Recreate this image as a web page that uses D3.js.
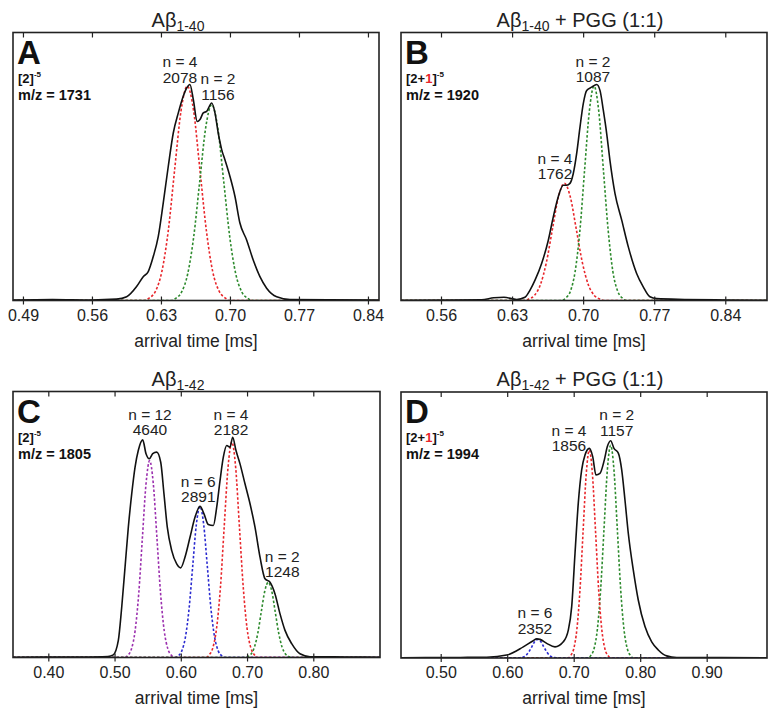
<!DOCTYPE html>
<html><head><meta charset="utf-8">
<script src="https://cdn.jsdelivr.net/npm/d3@7"></script>
<style>body{margin:0;background:#fff;} svg{display:block;font-family:Arial,"Liberation Sans",sans-serif;}</style>
</head><body>
<svg id="c" width="779" height="719"></svg>
<script>
// ---------- DATA ----------
const ticksA = [0.49, 0.56, 0.63, 0.70, 0.77, 0.84];
const ticksB = [0.56, 0.63, 0.70, 0.77, 0.84];
const ticksC = [0.40, 0.50, 0.60, 0.70, 0.80];
const ticksD = [0.50, 0.60, 0.70, 0.80, 0.90];

// Panel A: Aβ1-40 (arrival time ms, normalized intensity)
const aBlack = [[0.4799,0.002],[0.52,0.004],[0.56,0.002],[0.585,0.005],[0.5952,0.014],[0.6053,0.052],[0.6120,0.089],[0.6171,0.108],[0.6222,0.164],[0.6273,0.239],[0.6323,0.363],[0.6374,0.500],[0.6425,0.625],[0.6476,0.700],[0.6526,0.762],[0.6561,0.793],[0.6594,0.806],[0.6628,0.750],[0.6668,0.668],[0.6696,0.675],[0.6729,0.700],[0.6764,0.706],[0.6815,0.737],[0.6848,0.700],[0.6881,0.625],[0.6916,0.563],[0.6949,0.525],[0.7000,0.463],[0.7051,0.388],[0.7101,0.289],[0.7169,0.226],[0.7236,0.151],[0.7304,0.089],[0.7372,0.046],[0.7474,0.014],[0.7609,0.004],[0.80,0.003],[0.8512,0.002]];
const aRed = [[0.6180,0.009],[0.6245,0.035],[0.6309,0.108],[0.6374,0.260],[0.6438,0.485],[0.6503,0.706],[0.6567,0.800],[0.6632,0.706],[0.6696,0.485],[0.6761,0.260],[0.6825,0.108],[0.6890,0.035],[0.6954,0.009]];
const aGreen = [[0.6449,0.008],[0.6510,0.032],[0.6571,0.099],[0.6632,0.237],[0.6693,0.443],[0.6754,0.645],[0.6815,0.731],[0.6876,0.645],[0.6937,0.443],[0.6998,0.237],[0.7059,0.099],[0.7120,0.032],[0.7181,0.008]];

// Panel B: Aβ1-40 + PGG (1:1)
const bBlack = [[0.5206,0.001],[0.57,0.002],[0.600,0.003],[0.612,0.010],[0.622,0.012],[0.6346,0.004],[0.6427,0.012],[0.6477,0.039],[0.6526,0.076],[0.6592,0.139],[0.6657,0.225],[0.6706,0.312],[0.6755,0.387],[0.6804,0.430],[0.6838,0.430],[0.6870,0.437],[0.6903,0.474],[0.6936,0.548],[0.6969,0.647],[0.7001,0.734],[0.7035,0.784],[0.7084,0.796],[0.7133,0.806],[0.7166,0.784],[0.7199,0.709],[0.7232,0.623],[0.7264,0.523],[0.7314,0.399],[0.7380,0.300],[0.7445,0.200],[0.7527,0.101],[0.7592,0.051],[0.7658,0.014],[0.7724,0.007],[0.80,0.004],[0.84,0.002],[0.8811,0.001]];
const bRed = [[0.6461,0.005],[0.6520,0.019],[0.6579,0.059],[0.6638,0.142],[0.6697,0.265],[0.6756,0.386],[0.6815,0.437],[0.6874,0.386],[0.6933,0.265],[0.6992,0.142],[0.7051,0.059],[0.7110,0.019],[0.7169,0.005]];
const bGreen = [[0.6828,0.009],[0.6875,0.035],[0.6921,0.108],[0.6968,0.260],[0.7014,0.485],[0.7061,0.706],[0.7107,0.800],[0.7154,0.706],[0.7200,0.485],[0.7247,0.260],[0.7293,0.108],[0.7340,0.035],[0.7386,0.009]];

// Panel C: Aβ1-42
const cBlack = [[0.3467,0.001],[0.45,0.002],[0.49,0.004],[0.4981,0.010],[0.5057,0.064],[0.5108,0.189],[0.5158,0.339],[0.5208,0.490],[0.5259,0.615],[0.5309,0.715],[0.5358,0.778],[0.5425,0.818],[0.5475,0.766],[0.5525,0.747],[0.5576,0.766],[0.5636,0.772],[0.5697,0.734],[0.5746,0.615],[0.5796,0.490],[0.5863,0.402],[0.5938,0.352],[0.5998,0.337],[0.6063,0.377],[0.6139,0.452],[0.6214,0.527],[0.6290,0.568],[0.6350,0.540],[0.6415,0.500],[0.6491,0.496],[0.6542,0.565],[0.6592,0.665],[0.6642,0.753],[0.6693,0.797],[0.6743,0.791],[0.6783,0.828],[0.6833,0.778],[0.6894,0.728],[0.6969,0.653],[0.7045,0.578],[0.7120,0.490],[0.7196,0.377],[0.7271,0.296],[0.7347,0.283],[0.7422,0.239],[0.7498,0.164],[0.7573,0.102],[0.7674,0.052],[0.7799,0.014],[0.7950,0.003],[0.85,0.002],[0.9007,0.001]];
const cPurple = [[0.520,0.008],[0.5255,0.032],[0.531,0.100],[0.5365,0.240],[0.542,0.449],[0.5475,0.653],[0.553,0.740],[0.5585,0.653],[0.564,0.449],[0.5695,0.240],[0.575,0.100],[0.5805,0.032],[0.586,0.008]];
const cBlue = [[0.596,0.006],[0.6015,0.025],[0.607,0.077],[0.6125,0.184],[0.618,0.344],[0.6235,0.501],[0.629,0.568],[0.6345,0.501],[0.640,0.344],[0.6455,0.184],[0.651,0.077],[0.6565,0.025],[0.662,0.006]];
const cRed = [[0.6425,0.009],[0.6483,0.036],[0.654,0.110],[0.6598,0.263],[0.6655,0.491],[0.6713,0.715],[0.677,0.810],[0.6828,0.715],[0.6885,0.491],[0.6943,0.263],[0.700,0.110],[0.7058,0.036],[0.7115,0.009]];
const cGreen = [[0.7005,0.003],[0.7058,0.012],[0.711,0.038],[0.7163,0.092],[0.7215,0.172],[0.7268,0.250],[0.732,0.283],[0.7373,0.250],[0.7425,0.172],[0.7478,0.092],[0.753,0.038],[0.7583,0.012],[0.7635,0.003]];

// Panel D: Aβ1-42 + PGG (1:1)
const dBlack = [[0.4403,0.001],[0.53,0.002],[0.5692,0.003],[0.5992,0.011],[0.6242,0.042],[0.6392,0.065],[0.6444,0.072],[0.6493,0.070],[0.6594,0.055],[0.6719,0.042],[0.6844,0.061],[0.6919,0.105],[0.6970,0.193],[0.7020,0.394],[0.7069,0.582],[0.7120,0.707],[0.7170,0.763],[0.7235,0.788],[0.7286,0.757],[0.7335,0.688],[0.7395,0.694],[0.7460,0.744],[0.7505,0.794],[0.7556,0.817],[0.7606,0.788],[0.7671,0.770],[0.7722,0.707],[0.7771,0.594],[0.7821,0.469],[0.7896,0.331],[0.7971,0.218],[0.8072,0.118],[0.8173,0.061],[0.8272,0.030],[0.8398,0.008],[0.8549,0.002],[0.92,0.002],[0.9907,0.001]];
const dBlue = [[0.619,0.001],[0.6235,0.003],[0.628,0.009],[0.6325,0.023],[0.637,0.042],[0.6415,0.062],[0.646,0.070],[0.6505,0.062],[0.655,0.042],[0.6595,0.023],[0.664,0.009],[0.6685,0.003],[0.673,0.001]];
const dRed = [[0.6953,0.009],[0.7000,0.034],[0.7047,0.106],[0.7094,0.254],[0.7141,0.474],[0.7188,0.690],[0.7235,0.782],[0.7282,0.690],[0.7329,0.474],[0.7376,0.254],[0.7423,0.106],[0.7470,0.034],[0.7517,0.009]];
const dGreen = [[0.7256,0.009],[0.7306,0.035],[0.7356,0.108],[0.7406,0.260],[0.7456,0.485],[0.7506,0.706],[0.7556,0.800],[0.7606,0.706],[0.7656,0.485],[0.7706,0.260],[0.7756,0.108],[0.7806,0.035],[0.7856,0.009]];

// Peak annotations: [first line, second line, arrival time, intensity of label baseline]
const aLabels = [["n = 4","2078",0.6493,0.813],["n = 2","1156",0.6878,0.750]];
const bLabels = [["n = 2","1087",0.7097,0.814],["n = 4","1762",0.6723,0.4525]];
const cLabels = [["n = 12","4640",0.5535,0.835],["n = 4","2182",0.6758,0.835],["n = 6","2891",0.6264,0.583],["n = 2","1248",0.7532,0.301]];
const dLabels = [["n = 2","1157",0.7647,0.835],["n = 4","1856",0.6929,0.778],["n = 6","2352",0.6418,0.092]];

const titles = [["Aβ","1-40",""],["Aβ","1-40"," + PGG (1:1)"],["Aβ","1-42",""],["Aβ","1-42"," + PGG (1:1)"]];
const letters = ["A","B","C","D"];
const ions = [["[2","","]"],["[2+","1","]"],["[2","","]"],["[2+","1","]"]];
const mzs = ["m/z = 1731","m/z = 1920","m/z = 1805","m/z = 1994"];

// ---------- DRAW ----------
const COL = {black:"#111", red:"#e8262b", green:"#2d8a2d", blue:"#2a2ad0", purple:"#9b2fae"};
const svg = d3.select("#c");

const panels = [
  {box:[13,379,32.5,300.5], dom:[0.4799,0.8512], ticks:ticksA, fmt:".2f", black:aBlack,
   fits:[[aRed,"red"],[aGreen,"green"]], labels:aLabels, tcx:178},
  {box:[401,767,32.5,300.5], dom:[0.5206,0.8811], ticks:ticksB, fmt:".2f", black:bBlack,
   fits:[[bRed,"red"],[bGreen,"green"]], labels:bLabels, tcx:580},
  {box:[13,380,391.5,657.5], dom:[0.3467,0.9007], ticks:ticksC, fmt:".2f", black:cBlack,
   fits:[[cPurple,"purple"],[cBlue,"blue"],[cRed,"red"],[cGreen,"green"]], labels:cLabels, tcx:178},
  {box:[401,767,392,658], dom:[0.4403,0.9907], ticks:ticksD, fmt:".2f", black:dBlack,
   fits:[[dGreen,"green"],[dRed,"red"],[dBlue,"blue"]], labels:dLabels, tcx:580}
];

panels.forEach((p,i)=>{
  const [x0,x1,y0,y1] = p.box;
  const x = d3.scaleLinear().domain(p.dom).range([x0,x1]);
  const y = d3.scaleLinear().domain([0,1]).range([y1,y0]);
  const g = svg.append("g");
  const clipId = "clip"+i;
  svg.append("clipPath").attr("id",clipId).append("rect").attr("x",x0).attr("y",y0).attr("width",x1-x0).attr("height",y1-y0);
  const plot = g.append("g").attr("clip-path",`url(#${clipId})`);

  const line = d3.line().x(d=>x(d[0])).y(d=>y(d[1])).curve(d3.curveMonotoneX);
  p.fits.forEach(([pts,c])=>{
    const full = [[p.dom[0],0]].concat([[pts[0][0]-0.004,0]], pts, [[pts[pts.length-1][0]+0.004,0]], [[p.dom[1],0]]);
    plot.append("path").attr("d",line(full)).attr("fill","none")
      .attr("stroke",COL[c]).attr("stroke-width",1.6).attr("stroke-dasharray","2.5,2");
  });
  plot.append("path").attr("d",line(p.black)).attr("fill","none")
    .attr("stroke",COL.black).attr("stroke-width",1.6).attr("stroke-linejoin","round");

  g.append("rect").attr("x",x0).attr("y",y0).attr("width",x1-x0).attr("height",y1-y0)
    .attr("fill","none").attr("stroke","#222").attr("stroke-width",1.6);

  const ax = d3.axisBottom(x).tickValues(p.ticks).tickFormat(d3.format(p.fmt)).tickSizeInner(4).tickSizeOuter(0).tickPadding(5);
  const axg = g.append("g").attr("transform",`translate(0,${y1})`).call(ax);
  axg.select(".domain").remove();
  axg.selectAll(".tick line").attr("y1",-4).attr("y2",4).attr("stroke","#222").attr("stroke-width",1.2);
  axg.selectAll(".tick text").attr("font-size",16).attr("fill","#222").attr("font-family",'Arial,"Liberation Sans",sans-serif');
  const axt = d3.axisTop(x).tickValues(p.ticks).tickFormat("").tickSizeInner(-5).tickSizeOuter(0);
  const atg = g.append("g").attr("transform",`translate(0,${y0})`).call(axt);
  atg.select(".domain").remove();
  atg.selectAll(".tick line").attr("stroke","#222").attr("stroke-width",1.2);

  g.append("text").attr("x",(x0+x1)/2).attr("y",y1+46).attr("text-anchor","middle")
    .attr("font-size",17.5).attr("fill","#222").text("arrival time [ms]");

  const t = titles[i];
  const tt = g.append("text").attr("x",p.tcx).attr("y",y0-6).attr("text-anchor","middle").attr("font-size",20).attr("fill","#222");
  tt.append("tspan").text(t[0]);
  tt.append("tspan").attr("font-size",14).attr("dy",4).text(t[1]);
  if (t[2]) tt.append("tspan").attr("dy",-4).text(t[2]);

  g.append("text").attr("x",x0+4).attr("y",y0+31).attr("font-size",33).attr("font-weight","bold").attr("fill","#111").text(letters[i]);
  const io = ions[i];
  const it = g.append("text").attr("x",x0+5).attr("y",y0+50).attr("font-size",13).attr("font-weight","bold").attr("fill","#111");
  it.append("tspan").text(io[0]);
  if (io[1]) it.append("tspan").attr("fill","#e8262b").text(io[1]);
  it.append("tspan").text(io[2]);
  it.append("tspan").attr("font-size",8).attr("dy",-6).text("-5");
  g.append("text").attr("x",x0+5).attr("y",y0+67).attr("font-size",14.5).attr("font-weight","bold").attr("fill","#111").text(mzs[i]);

  p.labels.forEach(l=>{
    const lx = x(l[2]), ly = y(l[3]);
    g.append("text").attr("x",lx).attr("y",ly-15.5).attr("text-anchor","middle").attr("font-size",15.5).attr("fill","#222").text(l[0]);
    g.append("text").attr("x",lx).attr("y",ly).attr("text-anchor","middle").attr("font-size",15.5).attr("fill","#222").text(l[1]);
  });
});
</script>
</body></html>
